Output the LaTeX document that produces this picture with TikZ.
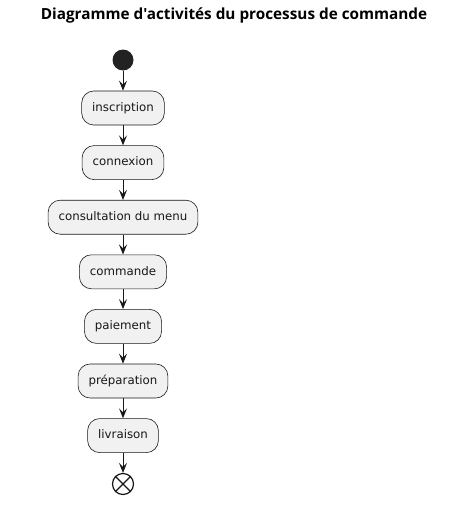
\documentclass[tikz,border=0pt]{standalone}
\usepackage{fontspec}
\setmainfont{DejaVu Sans}
\newfontfamily\titlefont{Open Sans}
\usepackage{xcolor}
\usetikzlibrary{arrows.meta,positioning}
\definecolor{actfill}{HTML}{F1F1F1}
\definecolor{actline}{HTML}{181818}
\definecolor{startfill}{HTML}{222222}

\begin{document}
\begin{tikzpicture}[
    activity/.style={draw=actline,fill=actfill,line width=0.6pt,rounded corners=12pt,
      minimum height=34pt,inner xsep=10.5pt,inner ysep=0pt,text height=9pt,text depth=2.5pt,
      font=\fontsize{11.8}{13}\selectfont,text=actline},
    flow/.style={draw=actline,line width=1pt,-{Stealth[length=10pt,width=8pt,inset=4pt]}},
    node distance=20pt
  ]
  \useasboundingbox (0,0) rectangle (476pt,-506pt);
  \node(title) at (234pt,-15pt) {\titlefont\bfseries\fontsize{15.3}{17}\selectfont Diagramme d'activités du processus de commande};
  \node[circle,fill=startfill,minimum size=21pt,inner sep=0pt](start) at (123pt,-60pt) {};
  \node[activity,below=of start](inscription) {inscription};
  \node[activity,below=of inscription](connexion) {connexion};
  \node[activity,below=of connexion](menu) {consultation du menu};
  \node[activity,below=of menu](commande) {commande};
  \node[activity,below=of commande](paiement) {paiement};
  \node[activity,below=of paiement](preparation) {préparation};
  \node[activity,below=of preparation](livraison) {livraison};
  \node[circle,draw=actline,fill=white,line width=1.2pt,minimum size=21pt,inner sep=0pt,below=of livraison](stop) {};
  \draw[actline,line width=1.2pt] (stop.45) -- (stop.225) (stop.135) -- (stop.315);
  \draw[flow] (start) -- (inscription);
  \draw[flow] (inscription) -- (connexion);
  \draw[flow] (connexion) -- (menu);
  \draw[flow] (menu) -- (commande);
  \draw[flow] (commande) -- (paiement);
  \draw[flow] (paiement) -- (preparation);
  \draw[flow] (preparation) -- (livraison);
  \draw[flow] (livraison) -- (stop);
\end{tikzpicture}
\end{document}
